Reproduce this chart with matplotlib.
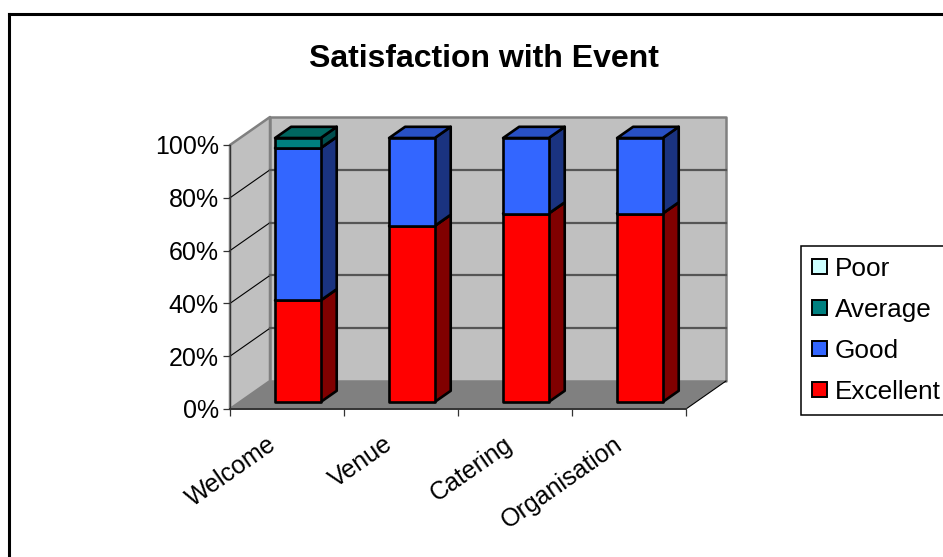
import matplotlib
matplotlib.use("Agg")
import matplotlib.pyplot as plt
from matplotlib.patches import Polygon, Patch
from matplotlib.lines import Line2D
from matplotlib.transforms import ScaledTranslation

plt.rcParams["font.family"] = ["Liberation Sans", "DejaVu Sans"]

categories = ["Welcome", "Venue", "Catering", "Organisation"]
excellent = [38.5, 66.7, 71.4, 71.4]
good = [57.7, 33.3, 28.6, 28.6]
average = [3.8, 0, 0, 0]
poor = [0, 0, 0, 0]

series_names = ["Excellent", "Good", "Average", "Poor"]
series_values = [excellent, good, average, poor]
# front, side, top face colours
series_faces = [
    ("#ff0000", "#800000", "#cc0000"),
    ("#3366ff", "#1a3380", "#2850c4"),
    ("#008080", "#004d4d", "#006660"),
    ("#ccffff", "#668080", "#a3cccc"),
]

DEPTH_X = 40 / 114   # oblique shift of the back wall, in category units
DEPTH_Y = 28 / 264 * 100   # same, in percent units
BAR_LEFT = 0.308
BAR_WIDTH = 0.4
BAR_NEAR = 0.25
BAR_FAR = 0.65
# sideways nudge of each slanted category label, in pixels
LABEL_NUDGE = [-20, -18, -12, -16]


def oblique(x, y, d):
    return (x + d * DEPTH_X, y + d * DEPTH_Y)


def face(ax, corners, color, edge="none", lw=0, z=2):
    pts = [oblique(*c) for c in corners]
    ax.add_patch(Polygon(pts, closed=True, facecolor=color, edgecolor=edge,
                         linewidth=lw, zorder=z, clip_on=False, joinstyle="round"))


def draw_box(ax, x, y0, y1, colors, z):
    x0, x1 = x + BAR_LEFT, x + BAR_LEFT + BAR_WIDTH
    front, side, top = colors
    n, f = BAR_NEAR, BAR_FAR
    face(ax, [(x1, y0, n), (x1, y0, f), (x1, y1, f), (x1, y1, n)], side, "black", 1.9, z)
    face(ax, [(x0, y1, n), (x1, y1, n), (x1, y1, f), (x0, y1, f)], top, "black", 1.9, z)
    face(ax, [(x0, y0, n), (x1, y0, n), (x1, y1, n), (x0, y1, n)], front, "black", 1.9, z)


fig = plt.figure(figsize=(9.43, 5.57), dpi=100)
W, H = 943, 557
ax = fig.add_axes([230 / W, (H - 409) / H, 456 / W, 264 / H])
ax.patch.set_visible(False)
n_cat = len(categories)
ax.set_xlim(0, n_cat)
ax.set_ylim(0, 100)

# walls and floor
face(ax, [(0, 0, 0), (0, 0, 1), (0, 100, 1), (0, 100, 0)], "#c0c0c0", "#808080", 1.8, 0)
face(ax, [(0, 0, 1), (n_cat, 0, 1), (n_cat, 100, 1), (0, 100, 1)], "#c0c0c0", "#808080", 1.8, 0)
face(ax, [(0, 0, 0), (n_cat, 0, 0), (n_cat, 0, 1), (0, 0, 1)], "#808080", z=1)

yticks = [0, 20, 40, 60, 80, 100]
for v in yticks[1:-1]:
    p0, p1, p2 = oblique(0, v, 0), oblique(0, v, 1), oblique(n_cat, v, 1)
    ax.plot([p0[0], p1[0]], [p0[1], p1[1]], color="black", lw=0.8, zorder=1, clip_on=False)
    ax.plot([p1[0], p2[0]], [p1[1], p2[1]], color="#555555", lw=1.6, zorder=1, clip_on=False)
p0, p1 = oblique(n_cat, 0, 0), oblique(n_cat, 0, 1)
ax.plot([p0[0], p1[0]], [p0[1], p1[1]], color="black", lw=0.8, zorder=1, clip_on=False)

# stacked bars, bottom segment first
for i in range(n_cat):
    base = 0
    for values, colors in zip(series_values, series_faces):
        if values[i] > 0:
            draw_box(ax, i, base, base + values[i], colors, 3)
            base += values[i]

for s in ["top", "right"]:
    ax.spines[s].set_visible(False)
ax.spines["bottom"].set_color("#333333")
ax.spines["bottom"].set_linewidth(1.4)
ax.spines["left"].set_color("#333333")
ax.spines["left"].set_linewidth(0.9)
ax.set_yticks(yticks)
ax.set_yticklabels([f"{v}%" for v in yticks], fontsize=18)
ax.set_xticks(range(n_cat + 1))
ax.set_xticklabels([""] * (n_cat + 1))
ax.set_xticks([i + 0.5 for i in range(n_cat)], minor=True)
ax.set_xticklabels(categories, minor=True, fontsize=18, rotation=35,
                   ha="right", rotation_mode="anchor")
ax.tick_params(axis="both", which="major", length=5, width=0.9, color="#333333", pad=3)
ax.tick_params(axis="x", which="minor", length=0, pad=16.5)
for lab, nudge in zip(ax.get_xticklabels(minor=True), LABEL_NUDGE):
    lab.set_transform(lab.get_transform() + ScaledTranslation(nudge / 100, 0, fig.dpi_scale_trans))

fig.text(484 / W, 1 - 59 / H, "Satisfaction with Event", fontsize=23,
         fontweight="bold", ha="center", va="center")

# outer chart border
fig.add_artist(Line2D([9 / W, 9 / W], [0, 1 - 14 / H], color="black", lw=2.2))
fig.add_artist(Line2D([9 / W, 1], [1 - 14 / H, 1 - 14 / H], color="black", lw=2.2))

handles = [Patch(facecolor=series_faces[i][0], edgecolor="black", linewidth=1.4,
                 label=series_names[i]) for i in [3, 2, 1, 0]]
leg = fig.legend(handles=handles, loc="upper left",
                 bbox_to_anchor=(801 / W, 1 - 246 / H), fontsize=18.8,
                 frameon=True, fancybox=False, edgecolor="black", framealpha=1,
                 handlelength=0.57, handleheight=0.53, handletextpad=0.31,
                 labelspacing=0.65, borderpad=0.42, borderaxespad=0)
leg.get_frame().set_linewidth(1.1)

fig.savefig("out.png", dpi=100)
